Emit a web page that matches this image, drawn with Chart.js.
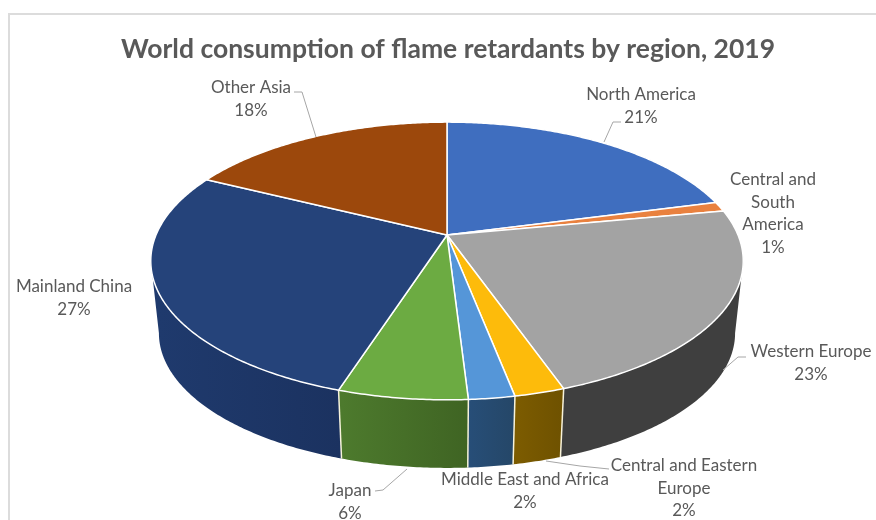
<!DOCTYPE html>
<html>
<head>
<meta charset="utf-8">
<title>World consumption of flame retardants by region, 2019</title>
<script src="https://cdn.jsdelivr.net/npm/chart.js@4"></script>
<style>
  html, body { margin: 0; padding: 0; background: #fff; }
  canvas { display: block; }
</style>
</head>
<body>
<canvas id="pieChart" width="876" height="520"></canvas>
<script>
// Data
const categories = ['North America', 'Central and South America', 'Western Europe', 'Central and Eastern Europe',
    'Middle East and Africa', 'Japan', 'Mainland China', 'Other Asia'];
const shares = [20.9, 1.1, 22.6, 2.3, 2.1, 5.9, 27.4, 17.6];

// Colours of the top face and of the side wall (left and right end)
const topColors = ['#3f6ebf', '#e9813f', '#a3a3a3', '#fdbb0b', '#5596d8', '#6cab42', '#25437a', '#9c480c'];
const wallLeft = ['#2c4d86', '#a3561f', '#3f3f3f', '#7d5c00', '#274e78', '#4d7a2d', '#1f3a6d', '#6d3208'];
const wallRight = ['#2c4d86', '#a3561f', '#3f3f3f', '#6f5200', '#254768', '#3f6423', '#1b3260', '#6d3208'];

// Where each label goes, and its leader line
const labelLines = [['North America'], ['Central and', 'South', 'America'], ['Western Europe'],
    ['Central and Eastern', 'Europe'], ['Middle East and Africa'], ['Japan'], ['Mainland China'], ['Other Asia']];
const labelX = [641, 773, 811, 684, 525, 350, 74, 251];
const labelY = [95, 180, 352, 466, 480, 491, 287, 88];
const leaders = [
    [[621, 122], [613, 122], [604, 142]],
    null,
    [[746, 357], [738, 357], [723, 370]],
    [[609, 469], [580, 466], [546, 461]],
    null,
    [[375, 491], [383, 490], [407, 469]],
    null,
    [[294, 92], [302, 92], [316, 137]]
];

// Perspective of the disk: apex of the top face, widths, and depth of the wall
const apexX = 447, apexY = 235, persp = 0.187;
const topW = 291, topH = 134;
const bottomW = 283, bottomH = 130, bottomY = 308;
const textColor = '#595959';

function project(angle, w, h, y0) {
    const u = Math.cos(angle), v = Math.sin(angle);
    const k = 1 - persp * v;
    return [apexX + w * u / k, y0 + h * v / k];
}
const topPoint = a => project(a, topW, topH, apexY);
const bottomPoint = a => project(a, bottomW, bottomH, bottomY);

function samples(a0, a1) {
    const out = [];
    const n = Math.max(2, Math.ceil(Math.abs(a1 - a0) / 0.01));
    for (let i = 0; i <= n; i++) out.push(a0 + (a1 - a0) * i / n);
    return out;
}

const disk3d = {
    id: 'disk3d',
    beforeDraw(chart) {
        // Frame of the original chart area
        const ctx = chart.ctx;
        ctx.save();
        ctx.strokeStyle = '#dcdcdc';
        ctx.lineWidth = 2;
        ctx.beginPath();
        ctx.moveTo(9, 520);
        ctx.lineTo(9, 14);
        ctx.lineTo(876, 14);
        ctx.stroke();
        ctx.restore();
    },
    // Replaces the flat arcs: angles still come from Chart.js, only the outline is projected
    beforeDatasetsDraw(chart) {
        const ctx = chart.ctx;
        const arcs = chart.getDatasetMeta(0).data;
        ctx.save();
        ctx.lineJoin = 'round';

        // Side wall, only between the two points where the outline turns
        const turn = Math.asin(persp);
        arcs.forEach((arc, i) => {
            const a0 = Math.max(arc.startAngle, turn);
            const a1 = Math.min(arc.endAngle, Math.PI - turn);
            if (a1 <= a0) return;
            const grad = ctx.createLinearGradient(bottomPoint(a1)[0], 0, bottomPoint(a0)[0], 0);
            grad.addColorStop(0, wallLeft[i]);
            grad.addColorStop(1, wallRight[i]);
            ctx.fillStyle = grad;
            ctx.beginPath();
            samples(a0, a1).forEach(a => ctx.lineTo(...topPoint(a)));
            samples(a1, a0).forEach(a => ctx.lineTo(...bottomPoint(a)));
            ctx.closePath();
            ctx.fill();
        });

        // Light seams between wall pieces
        arcs.forEach(arc => {
            const a = arc.endAngle;
            if (a < 0.2 || a > Math.PI - 0.2) return;
            ctx.strokeStyle = 'rgba(255,250,225,0.95)';
            ctx.lineWidth = 1.5;
            ctx.beginPath();
            ctx.moveTo(...topPoint(a));
            ctx.lineTo(...bottomPoint(a));
            ctx.stroke();
        });

        // Top face
        arcs.forEach(arc => {
            ctx.fillStyle = arc.options.backgroundColor;
            ctx.strokeStyle = arc.options.borderColor;
            ctx.lineWidth = arc.options.borderWidth;
            ctx.beginPath();
            ctx.moveTo(apexX, apexY);
            samples(arc.startAngle, arc.endAngle).forEach(a => ctx.lineTo(...topPoint(a)));
            ctx.closePath();
            ctx.fill();
            ctx.stroke();
        });
        ctx.restore();
        return false;
    },
    afterDraw(chart) {
        const ctx = chart.ctx;
        ctx.save();
        ctx.font = '17px Lato';
        ctx.fillStyle = textColor;
        ctx.textAlign = 'center';
        ctx.textBaseline = 'middle';
        const lineGap = 22.5;
        shares.forEach((value, i) => {
            const lines = labelLines[i].concat(Math.round(value) + '%');
            lines.forEach((text, n) => ctx.fillText(text, labelX[i], labelY[i] + n * lineGap));
            if (leaders[i]) {
                ctx.strokeStyle = '#a6a6a6';
                ctx.lineWidth = 1;
                ctx.beginPath();
                leaders[i].forEach(p => ctx.lineTo(p[0], p[1]));
                ctx.stroke();
            }
        });
        ctx.restore();
    }
};

new Chart(document.getElementById('pieChart'), {
    type: 'pie',
    data: {
        labels: categories,
        datasets: [{
            data: shares,
            backgroundColor: topColors,
            borderColor: '#ffffff',
            borderWidth: 1.5
        }]
    },
    options: {
        responsive: false,
        animation: false,
        layout: { padding: { top: 14, left: 20 } },
        plugins: {
            legend: { display: false },
            tooltip: { enabled: false },
            title: {
                display: true,
                text: 'World consumption of flame retardants by region, 2019',
                color: textColor,
                font: { family: 'Lato', size: 26.5, weight: 'bold' },
                padding: { top: 20, bottom: 6 }
            }
        }
    },
    plugins: [disk3d]
});
</script>
</body>
</html>
